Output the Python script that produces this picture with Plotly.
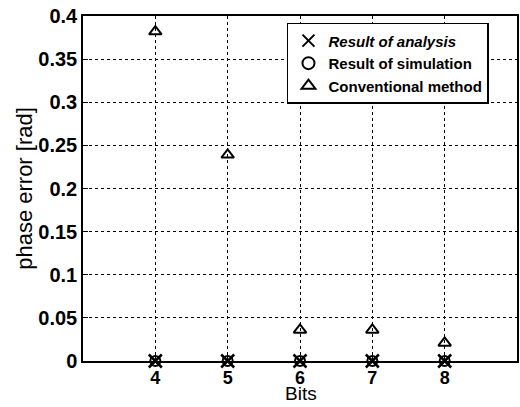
import plotly.graph_objects as go

bits = [4, 5, 6, 7, 8]
analysis = [0.0, 0.0, 0.0, 0.0, 0.0]
simulation = [0.0, 0.0, 0.0, 0.0, 0.0]
conventional = [0.382, 0.239, 0.036, 0.036, 0.021]

fig = go.Figure()
fig.add_trace(go.Scatter(x=bits, y=analysis, mode="markers", name="<i>Result of analysis</i>",
                         marker=dict(symbol="x-thin-open", size=13, color="black", line=dict(width=2.5, color="black")),
                         cliponaxis=False))
fig.add_trace(go.Scatter(x=bits, y=simulation, mode="markers", name="Result of simulation",
                         marker=dict(symbol="circle-open", size=10, color="black", line=dict(width=2, color="black")),
                         cliponaxis=False))
fig.add_trace(go.Scatter(x=bits, y=conventional, mode="markers", name="Conventional method",
                         marker=dict(symbol="triangle-up-open", size=11, color="black", line=dict(width=2, color="black")),
                         cliponaxis=False))

fig.update_layout(
    width=520, height=407,
    margin=dict(l=83, r=3, t=16, b=46, autoexpand=False),
    paper_bgcolor="white", plot_bgcolor="white",
    font=dict(family="Liberation Sans, Arial, sans-serif", color="black"),
    showlegend=True,
    legend=dict(x=0.47, y=0.98, xanchor="left", yanchor="top",
                bgcolor="white", bordercolor="black", borderwidth=1.5,
                font=dict(size=15, family="Liberation Sans, Arial, sans-serif", weight="bold"),
                tracegroupgap=0, itemsizing="constant"),
    xaxis=dict(range=[3, 9], tickvals=bits, ticktext=[str(b) for b in bits],
               showline=True, linecolor="black", linewidth=1.5, mirror=True,
               showgrid=True, gridcolor="black", griddash="dot", gridwidth=1,
               ticks="inside", ticklen=5, tickcolor="black", zeroline=False,
               automargin=False,
               tickfont=dict(size=18, weight="bold")),
    yaxis=dict(range=[0, 0.4], tickvals=[0, 0.05, 0.1, 0.15, 0.2, 0.25, 0.3, 0.35, 0.4],
               ticktext=["0", "0.05", "0.1", "0.15", "0.2", "0.25", "0.3", "0.35", "0.4"],
               showline=True, linecolor="black", linewidth=1.5, mirror=True,
               showgrid=True, gridcolor="black", griddash="dot", gridwidth=1,
               ticks="inside", ticklen=5, tickcolor="black", zeroline=False,
               automargin=False,
               tickfont=dict(size=20, weight="bold"),
               title=dict(text="phase error [rad]", font=dict(size=22), standoff=0)),
    annotations=[dict(text="Bits", xref="paper", yref="paper", x=0.502, y=-0.128,
                      xanchor="center", yanchor="bottom", showarrow=False, borderpad=0,
                      font=dict(size=19, color="black"))],
)

fig.write_html("out.html", config={"displayModeBar": False},
               post_script="document.body.style.margin='0';document.body.style.overflow='hidden';")
